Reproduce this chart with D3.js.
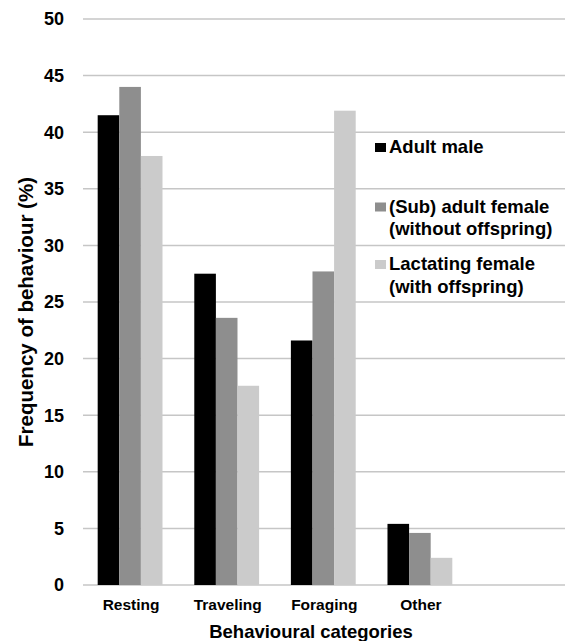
<!DOCTYPE html>
<html>
<head>
<meta charset="utf-8">
<script src="https://cdn.jsdelivr.net/npm/d3@7"></script>
<style>
  body { margin: 0; background: #fff; }
  text { font-family: "Liberation Sans", Arial, sans-serif; font-weight: bold; fill: #000; }
</style>
</head>
<body>
<div id="chart"></div>
<script>
// Data
const categories = ["Resting", "Traveling", "Foraging", "Other"];
const seriesNames = ["Adult male", "(Sub) adult female (without offspring)", "Lactating female (with offspring)"];
const adultMale = [41.5, 27.5, 21.6, 5.4];
const subAdultFemale = [44.0, 23.6, 27.7, 4.6];
const lactatingFemale = [37.9, 17.6, 41.9, 2.4];
const yTicks = [0, 5, 10, 15, 20, 25, 30, 35, 40, 45, 50];
const legendLines = [["Adult male"], ["(Sub) adult female", "(without offspring)"], ["Lactating female", "(with offspring)"]];

const colors = ["#000000", "#8e8e8e", "#cbcbcb"];
const values = [adultMale, subAdultFemale, lactatingFemale];

const width = 571, height = 641;
const plot = { left: 83, right: 565, top: 19, bottom: 585 };

const svg = d3.select("#chart")
    .append("svg")
    .attr("width", width)
    .attr("height", height);

// Scales
const step = 96.6;
const x = d3.scaleBand()
    .domain(categories)
    .range([plot.left, plot.left + step * (categories.length - 0.329 + 2 * 0.152)])
    .paddingInner(0.329)
    .paddingOuter(0.152);

const xInner = d3.scaleBand()
    .domain(d3.range(seriesNames.length))
    .range([0, x.bandwidth()]);

const y = d3.scaleLinear()
    .domain([0, 50])
    .range([plot.bottom, plot.top]);

// Gridlines
svg.append("g")
    .selectAll("line")
    .data(yTicks)
    .enter()
    .append("line")
    .attr("x1", plot.left)
    .attr("x2", plot.right)
    .attr("y1", d => y(d))
    .attr("y2", d => y(d))
    .attr("stroke", "#c6c6c6")
    .attr("stroke-width", 1.5);

// Y tick labels
svg.append("g")
    .selectAll("text")
    .data(yTicks)
    .enter()
    .append("text")
    .attr("x", 64)
    .attr("y", d => y(d))
    .attr("dy", "0.36em")
    .attr("text-anchor", "end")
    .style("font-size", "18px")
    .text(d => d);

// Bars
const groups = svg.append("g")
    .selectAll("g")
    .data(categories)
    .enter()
    .append("g")
    .attr("transform", d => `translate(${x(d)},0)`);

groups.selectAll("rect")
    .data((d, i) => values.map((v, s) => ({ s: s, v: v[i] })))
    .enter()
    .append("rect")
    .attr("x", d => xInner(d.s))
    .attr("width", xInner.bandwidth())
    .attr("y", d => y(d.v))
    .attr("height", d => y(0) - y(d.v))
    .attr("fill", d => colors[d.s]);

// Category labels
svg.append("g")
    .selectAll("text")
    .data(categories)
    .enter()
    .append("text")
    .attr("x", d => x(d) + x.bandwidth() / 2 + 1)
    .attr("y", 610)
    .attr("text-anchor", "middle")
    .style("font-size", "15.5px")
    .text(d => d);

// Axis titles
svg.append("text")
    .attr("x", 311)
    .attr("y", 638)
    .attr("text-anchor", "middle")
    .style("font-size", "18.5px")
    .text("Behavioural categories");

svg.append("text")
    .attr("transform", "translate(33, 312) rotate(-90)")
    .attr("text-anchor", "middle")
    .style("font-size", "20.5px")
    .text("Frequency of behaviour (%)");

// Legend
const legendTop = [153, 212.5, 270];
const legend = svg.append("g")
    .selectAll("g")
    .data(legendLines)
    .enter()
    .append("g")
    .attr("transform", (d, i) => `translate(375, ${legendTop[i]})`);

legend.append("rect")
    .attr("x", 0)
    .attr("y", -10)
    .attr("width", 11)
    .attr("height", 9)
    .attr("fill", (d, i) => colors[i]);

legend.selectAll("text")
    .data(d => d)
    .enter()
    .append("text")
    .attr("x", 14)
    .attr("y", (d, j) => j * 22.5)
    .style("font-size", "18.5px")
    .text(d => d);
</script>
</body>
</html>
